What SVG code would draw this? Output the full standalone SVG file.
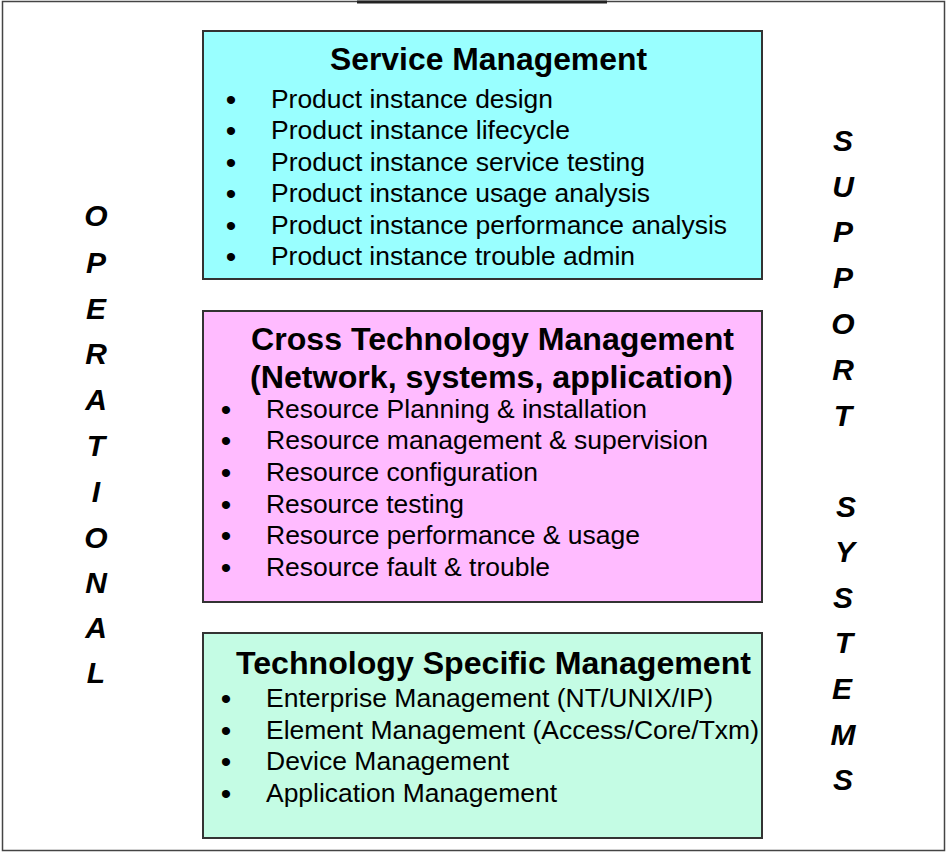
<svg xmlns="http://www.w3.org/2000/svg" width="950" height="854" viewBox="0 0 950 854">
<style>
.box{stroke:#333;stroke-width:2}
.title{font-family:"Liberation Sans",Arial,sans-serif;font-weight:bold;font-size:31px;fill:#000;text-anchor:middle}
.item{font-family:"Liberation Sans",Arial,sans-serif;font-size:25px;fill:#000}
.bul{font-family:"Liberation Sans",Arial,sans-serif;font-size:30px;fill:#000;text-anchor:middle}
.vert{font-family:"Liberation Sans",Arial,sans-serif;font-weight:bold;font-style:italic;font-size:30px;fill:#000;text-anchor:middle}
</style>
<rect x="0" y="0" width="950" height="854" fill="#fff"/>
<rect x="2.5" y="1.5" width="942" height="849" fill="none" stroke="#444" stroke-width="1.5"/>
<line x1="357" y1="2" x2="607" y2="2" stroke="#222" stroke-width="3"/>

<g id="service-management">
<rect class="box" x="203" y="31" width="559" height="248" fill="#99FFFF"/>
<text class="title" x="488.5" y="70" textLength="317" lengthAdjust="spacingAndGlyphs">Service Management</text>
<g class="bul"><text x="231" y="110">•</text><text x="231" y="141">•</text><text x="231" y="173">•</text><text x="231" y="204">•</text><text x="231" y="236">•</text><text x="231" y="267">•</text></g>
<text class="item" x="271" y="108" textLength="282" lengthAdjust="spacingAndGlyphs">Product instance design</text>
<text class="item" x="271" y="139" textLength="299" lengthAdjust="spacingAndGlyphs">Product instance lifecycle</text>
<text class="item" x="271" y="171" textLength="374" lengthAdjust="spacingAndGlyphs">Product instance service testing</text>
<text class="item" x="271" y="202" textLength="379" lengthAdjust="spacingAndGlyphs">Product instance usage analysis</text>
<text class="item" x="271" y="234" textLength="456" lengthAdjust="spacingAndGlyphs">Product instance performance analysis</text>
<text class="item" x="271" y="265" textLength="364" lengthAdjust="spacingAndGlyphs">Product instance trouble admin</text>
</g>

<g id="cross-technology-management">
<rect class="box" x="203" y="311" width="559" height="291" fill="#FFBBFF"/>
<text class="title" x="492.5" y="350" textLength="483" lengthAdjust="spacingAndGlyphs">Cross Technology Management</text>
<text class="title" x="491.5" y="388" textLength="483" lengthAdjust="spacingAndGlyphs">(Network, systems, application)</text>
<g class="bul"><text x="226" y="420">•</text><text x="226" y="451">•</text><text x="226" y="483">•</text><text x="226" y="515">•</text><text x="226" y="546">•</text><text x="226" y="578">•</text></g>
<text class="item" x="266" y="418" textLength="381" lengthAdjust="spacingAndGlyphs">Resource Planning &amp; installation</text>
<text class="item" x="266" y="449" textLength="442" lengthAdjust="spacingAndGlyphs">Resource management &amp; supervision</text>
<text class="item" x="266" y="481" textLength="272" lengthAdjust="spacingAndGlyphs">Resource configuration</text>
<text class="item" x="266" y="513" textLength="198" lengthAdjust="spacingAndGlyphs">Resource testing</text>
<text class="item" x="266" y="544" textLength="374" lengthAdjust="spacingAndGlyphs">Resource performance &amp; usage</text>
<text class="item" x="266" y="576" textLength="284" lengthAdjust="spacingAndGlyphs">Resource fault &amp; trouble</text>
</g>

<g id="technology-specific-management">
<rect class="box" x="203" y="633" width="559" height="205" fill="#C4FCE4"/>
<text class="title" x="493.5" y="674" textLength="515" lengthAdjust="spacingAndGlyphs">Technology Specific Management</text>
<g class="bul"><text x="226" y="709">•</text><text x="226" y="741">•</text><text x="226" y="772">•</text><text x="226" y="804">•</text></g>
<text class="item" x="266" y="707" textLength="447" lengthAdjust="spacingAndGlyphs">Enterprise Management (NT/UNIX/IP)</text>
<text class="item" x="266" y="739" textLength="493" lengthAdjust="spacingAndGlyphs">Element Management (Access/Core/Txm)</text>
<text class="item" x="266" y="770" textLength="243" lengthAdjust="spacingAndGlyphs">Device Management</text>
<text class="item" x="266" y="802" textLength="291" lengthAdjust="spacingAndGlyphs">Application Management</text>
</g>

<g id="operational-label" class="vert">
<text x="96" y="226">O</text><text x="96" y="273">P</text><text x="96" y="319">E</text><text x="96" y="364">R</text><text x="96" y="410">A</text><text x="96" y="456">T</text><text x="96" y="502">I</text><text x="96" y="548">O</text><text x="96" y="593">N</text><text x="96" y="638">A</text><text x="96" y="683">L</text>
</g>

<g id="support-systems-label" class="vert">
<text x="843" y="151">S</text><text x="843" y="197">U</text><text x="843" y="242">P</text><text x="843" y="288">P</text><text x="843" y="334">O</text><text x="843" y="380">R</text><text x="843" y="426">T</text>
<text x="846" y="517">S</text><text x="845" y="562">Y</text><text x="843" y="608">S</text><text x="844" y="653">T</text><text x="842" y="699">E</text><text x="843" y="745">M</text><text x="843" y="790">S</text>
</g>

<g id="connectors"></g>
</svg>
